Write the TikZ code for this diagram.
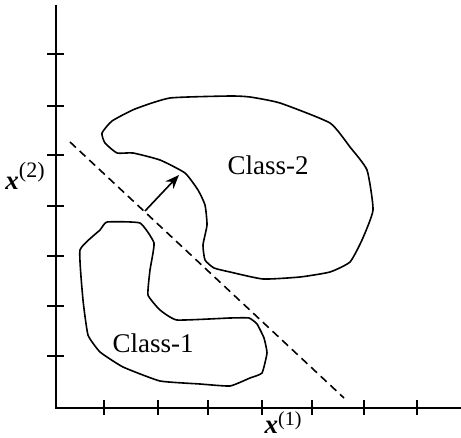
\documentclass[tikz,border=0pt]{standalone}
\usepackage{fontspec}
\setmainfont{Liberation Serif}
\usetikzlibrary{arrows.meta}

\begin{document}
\begin{tikzpicture}[
  x=0.5pt, y=-0.5pt,
  >=Stealth,
  every node/.style={font=\fontsize{13.5}{16}\selectfont},
  axis/.style={line width=1.1pt},
  tick/.style={line width=0.9pt},
  contour/.style={line width=0.8pt,line join=round},
  boundary/.style={line width=0.8pt,dash pattern=on 4pt off 2.6pt},
  normal/.style={-{Stealth[length=7pt,width=5.5pt]},line width=0.8pt},
  axislabel/.style={inner sep=0pt}
]
  \useasboundingbox (0,0) rectangle (461,438);

  % axes and ticks
  \coordinate (origin) at (56,408);
  \coordinate (ytop) at (56,5);
  \coordinate (xend) at (461,408);
  \draw[axis] (ytop) -- (origin) -- (xend);
  \foreach \y in {54,106,155,206,256,306,356}
    \draw[tick] (47,\y) -- (64,\y);
  \foreach \x in {104,158,208,262,312,364,417}
    \draw[tick] (\x,400) -- (\x,415);
  \node[axislabel] (xtwo) at (25,176)
    {\textbf{\textit{x}}\raisebox{0.45em}{\fontsize{11}{12}\selectfont(2)}};
  \node[axislabel,anchor=base] (xone) at (283,434)
    {\textbf{\textit{x}}\raisebox{0.3em}{\fontsize{10}{11}\selectfont(1)}};

  % class regions
  \draw[contour] plot[smooth cycle,tension=0.3] coordinates {
    (102,133) (112,121) (135,109) (170,98) (230,96) (250,97) (280,103)
    (330,123) (350,147) (367,170) (373,210) (362,240) (350,262) (330,272)
    (300,277) (263,279) (230,272) (214,268) (205,260) (203,245) (207,225)
    (205,205) (198,190) (185,173) (160,160) (133,153) (117,153) (105,143)};
  \draw[contour] plot[smooth cycle,tension=0.25] coordinates {
    (107,222) (140,223) (154,243) (150,270) (148,295) (160,310) (177,320)
    (230,318) (249,318) (257,324) (264,338) (267,353) (262,373) (250,378)
    (230,386) (200,384) (160,381) (123,367) (100,352) (88,335) (83,300)
    (80,250) (100,230)};
  \node (classtwo) at (268,165) {Class-2};
  \node (classone) at (153,343) {Class-1};

  % separating line and its normal
  \coordinate (sepa) at (70,142);
  \coordinate (sepb) at (344,398);
  \draw[boundary] (sepa) -- (sepb);
  \coordinate (nbase) at (145,211);
  \coordinate (ntip) at (179,175);
  \draw[normal] (nbase) -- (ntip);
\end{tikzpicture}
\end{document}
